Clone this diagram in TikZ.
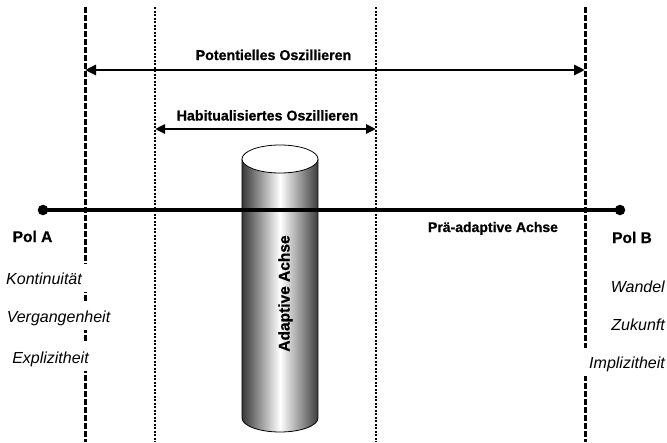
\documentclass[tikz,border=0pt]{standalone}
\usepackage{fontspec}
\setmainfont{Liberation Sans}[BoldFeatures={FakeBold=0.8}]
\usetikzlibrary{arrows.meta}
\begin{document}
\begin{tikzpicture}[x=1pt,y=-1pt,
  thickdash/.style={line width=3pt, dash pattern=on 5.5pt off 2.5pt},
  thindot/.style={line width=1.4pt, dash pattern=on 2.2pt off 1.3pt},
  bigarrow/.style={line width=2.8pt, {Triangle[length=11pt,width=10pt]}-{Triangle[length=11pt,width=10pt]}},
  smallarrow/.style={line width=2.8pt, {Triangle[length=10pt,width=9pt]}-{Triangle[length=10pt,width=9pt]}},
  lbl/.style={font=\bfseries\fontsize{14.2}{16}\selectfont, inner sep=0pt, anchor=base},
  pol/.style={font=\bfseries\fontsize{15.5}{18}\selectfont, inner sep=0pt, anchor=base},
  attr/.style={font=\itshape\fontsize{16}{19}\selectfont, fill=white, inner xsep=5pt, inner ysep=0pt, text height=20pt, text depth=8pt, anchor=base},
  attrR/.style={attr, anchor=base east},
  enddot/.style={circle, fill=black, inner sep=0pt, minimum size=10.5pt},
  cylline/.style={line width=0.8pt},
]
\useasboundingbox (0,0) rectangle (667,442);
% vertical guide lines
\coordinate (aTop) at (85,7);  \coordinate (aBot) at (85,442);
\coordinate (bTop) at (585,7); \coordinate (bBot) at (585,442);
\coordinate (hTop) at (155,7); \coordinate (hBot) at (155,442);
\coordinate (iTop) at (376,7); \coordinate (iBot) at (376,442);
\draw[thickdash] (aTop) -- (aBot);
\draw[thickdash] (bTop) -- (bBot);
\draw[thindot] (hTop) -- (hBot);
\draw[thindot] (iTop) -- (iBot);
% cylinder
\path[left color=black!78, right color=black!76, middle color=white]
  (242,159) -- (242,418) arc[start angle=180, end angle=0, x radius=38, y radius=14] -- (318,159) -- cycle;
\draw[cylline] (242,159) -- (242,418) arc[start angle=180, end angle=0, x radius=38, y radius=14] -- (318,159);
\draw[cylline, fill=white] (280,159) ellipse [x radius=38, y radius=14];
\node[font=\bfseries\fontsize{15.5}{19}\selectfont, rotate=90, inner sep=0pt] (adapt) at (285.5,293.5) {Adaptive Achse};
% pre-adaptive axis
\node[enddot] (dA) at (43,210) {};
\node[enddot] (dB) at (620,210) {};
\draw[line width=4pt] (dA.center) -- (dB.center);
% oscillation arrows
\coordinate (p1) at (85,70);  \coordinate (p2) at (585,70);
\coordinate (h1) at (155,129); \coordinate (h2) at (376,129);
\draw[bigarrow] (p1) -- (p2);
\draw[smallarrow] (h1) -- (h2);
\node[lbl] (pot) at (273.5,60) {Potentielles Oszillieren};
\node[lbl] (hab) at (267.5,120.5) {Habitualisiertes Oszillieren};
% labels
\node[pol] (polA) at (32.5,242) {Pol A};
\node[pol] (polB) at (632,243) {Pol B};
\node[font=\bfseries\fontsize{14}{16}\selectfont, inner sep=0pt, anchor=base] (prae) at (493,232) {Prä-adaptive Achse};
\node[attr] (kont) at (44,284) {Kontinuität};
\node[attr] (verg) at (58.5,322) {Vergangenheit};
\node[attr] (expl) at (50.5,363) {Explizitheit};
\node[attrR] (wand) at (670,292) {Wandel};
\node[attrR] (zuk) at (670,330) {Zukunft};
\node[attrR] (impl) at (670,368) {Implizitheit};
\end{tikzpicture}
\end{document}
